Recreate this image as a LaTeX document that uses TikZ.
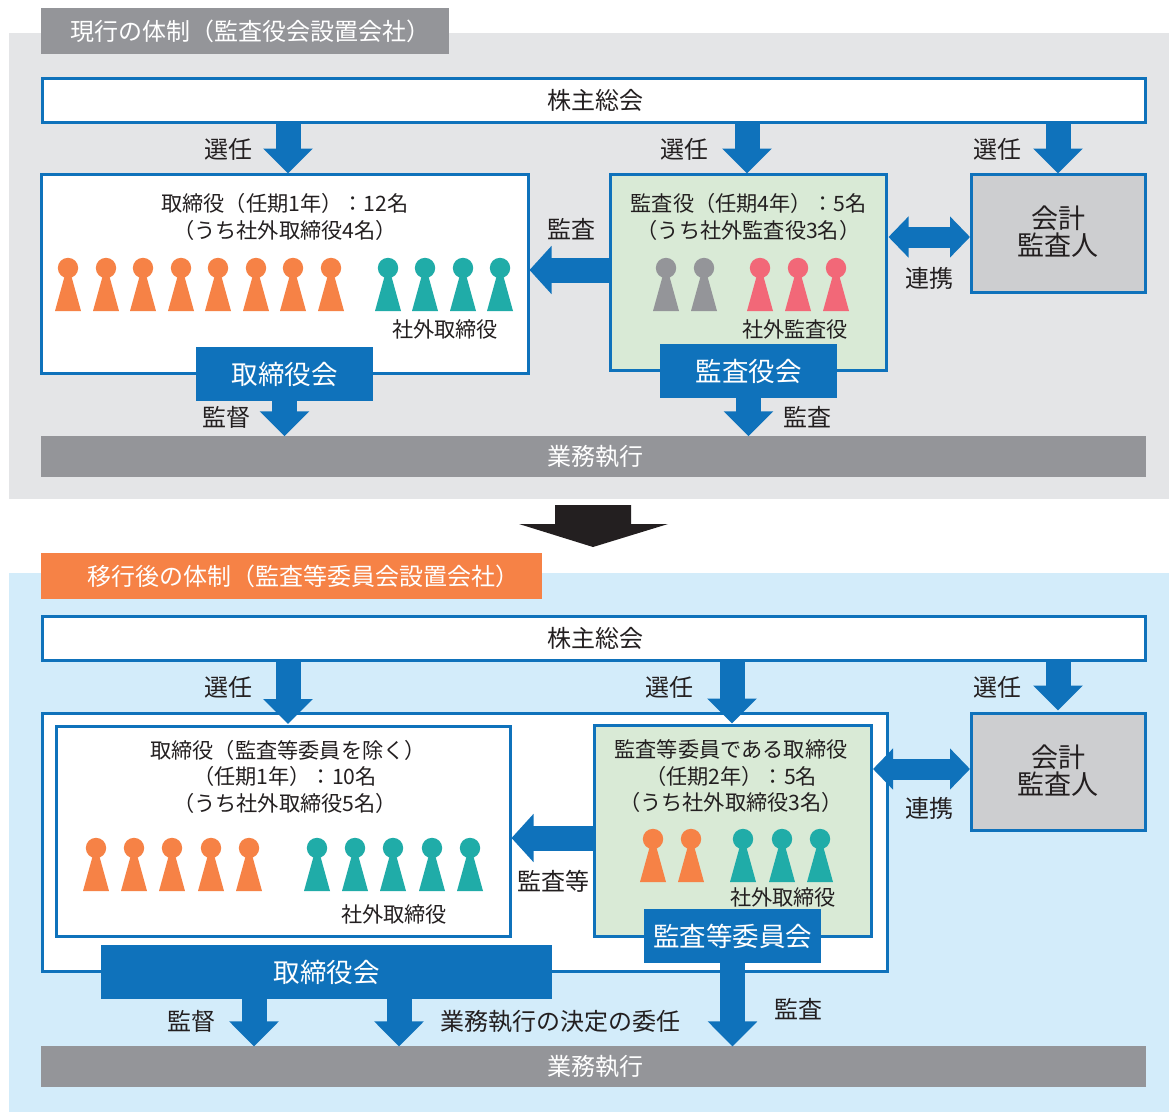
\documentclass[tikz,border=0pt]{standalone}
\usepackage{fontspec}
\setmainfont{Noto Sans CJK JP}
\usetikzlibrary{arrows.meta}
\definecolor{blu}{HTML}{0F72BB}
\definecolor{gry}{HTML}{949599}
\definecolor{pale}{HTML}{E4E5E7}
\definecolor{sky}{HTML}{D3ECFA}
\definecolor{grn}{HTML}{D9EAD6}
\definecolor{acc}{HTML}{CDCED0}
\definecolor{org}{HTML}{F68246}
\definecolor{tea}{HTML}{20ACA8}
\definecolor{pnk}{HTML}{F26878}
\definecolor{ink}{HTML}{231F20}
\tikzset{
  every node/.style={inner sep=0pt,outer sep=0pt,text=ink},
  panel/.style={fill=#1,minimum width=1160,anchor=north west},
  head/.style={fill=#1,text=white,font=\fontsize{24}{24}\selectfont},
  sbox/.style={draw=blu,line width=3,fill=#1},
  sbox/.default=white,
  bar/.style={fill=gry,text=white,font=\fontsize{24}{24}\selectfont,minimum width=1105,minimum height=40.5},
  bluebox/.style={fill=blu,text=white,font=\fontsize{26.5}{26.5}\selectfont,minimum height=54},
  lab/.style={font=\fontsize{24}{24}\selectfont},
  txt/.style={font=\fontsize{21.2}{26.5}\selectfont,align=center},
  big/.style={font=\fontsize{27}{27}\selectfont,align=center},
  blk/.style={draw=blu,line width=25,-{Triangle[length=25,width=48]},shorten >=1},
  blkh/.style={draw=blu,line width=25,-{Triangle[length=22,width=47]},shorten >=1},
  dbl/.style={draw=blu,line width=21,{Triangle[length=20,width=40]}-{Triangle[length=20,width=40]},shorten >=1,shorten <=2},
  person/.pic={
    \fill[#1] (0,0) circle (10.2);
    \fill[#1] (-2.5,5) -- (2.5,5) -- (13,43) -- (-13,43) -- cycle;
  }
}
\begin{document}
\begin{tikzpicture}[x=1pt,y=-1pt]
\useasboundingbox (0,0) rectangle (1169,1112);
% ---------- upper panel
\node[panel=pale,minimum height=466] (p1) at (9,33) {};
\node[head=gry,minimum width=408,minimum height=46] (t1) at (245,31) {\hspace*{10pt}現行の体制（監査役会設置会社）};
\node[sbox,minimum width=1103,minimum height=44] (m1) at (593.5,100) {\hspace*{3pt}\fontsize{24}{24}\selectfont 株主総会};
\node[sbox,minimum width=487,minimum height=199] (b1) at (285,274) {};
\node[sbox=grn,minimum width=276,minimum height=196] (k1) at (748.5,272.5) {};
\node[sbox=acc,minimum width=174,minimum height=118] (c1) at (1058,233.5) {};
\node[bar] (w1) at (593.5,456.5) {\hspace*{3pt}業務執行};
\node[bluebox,minimum width=177] (bb1) at (284.5,374) {取締役会};
\node[bluebox,minimum width=177] (kb1) at (748.5,371) {監査役会};
\node[txt] (bt1) at (285,217) {取締役（任期1年）：12名\\（うち社外取締役4名）};
\node[txt] (kt1) at (748.5,217) {監査役（任期4年）：5名\\（うち社外監査役3名）};
\node[big] (ct1) at (1058,232) {会計\\監査人};
\node[txt] (bo1) at (445,329) {社外取締役};
\node[txt] (ko1) at (795,329) {社外監査役};
\node[lab] (l1) at (228,149) {選任};
\node[lab] (l2) at (684,149) {選任};
\node[lab] (l3) at (997,149) {選任};
\node[lab] (l4) at (571,229) {監査};
\node[lab] (l5) at (929,278) {連携};
\node[lab] (l6) at (226,417) {監督};
\node[lab] (l7) at (807,417) {監査};
\foreach \x in {68,106,143,181,218,256,293,331} \pic at (\x,268) {person=org};
\foreach \x in {388,425,463,500} \pic at (\x,268) {person=tea};
\foreach \x in {666,704} \pic at (\x,268) {person=gry};
\foreach \x in {760,798,836} \pic at (\x,268) {person=pnk};
\coordinate (a1) at (288,0);
\coordinate (a2) at (747,0);
\coordinate (a3) at (1058,0);
\coordinate (a4) at (0,270);
\coordinate (a5) at (0,237);
\draw[blk] (m1.south -| a1) -- (b1.north -| a1);
\draw[blk] (m1.south -| a2) -- (k1.north -| a2);
\draw[blk] (m1.south -| a3) -- (c1.north -| a3);
\draw[blk,shorten >=0] (bb1.south) -- (bb1.south |- w1.north);
\draw[blk,shorten >=0] (kb1.south) -- (kb1.south |- w1.north);
\draw[blkh] (k1.west |- a4) -- (b1.east |- a4);
\draw[dbl] (k1.east |- a5) -- (c1.west |- a5);
% ---------- transition arrow
\coordinate (tb) at (593,547);
\fill[ink] (555,505) -- (631,505) -- (631,524) -- (668,524) -- (tb) -- (519,524) -- (555,524) -- cycle;
% ---------- lower panel
\node[panel=sky,minimum height=539] (p2) at (9,573) {};
\node[head=org,minimum width=501,minimum height=46] (t2) at (291.5,576) {\hspace*{24pt}移行後の体制（監査等委員会設置会社）};
\node[sbox,minimum width=1103,minimum height=44] (m2) at (593.5,638) {\hspace*{3pt}\fontsize{24}{24}\selectfont 株主総会};
\node[sbox,minimum width=845,minimum height=258] (o2) at (464.5,842.5) {};
\node[sbox,minimum width=454,minimum height=210] (b2) at (283.5,831) {};
\node[sbox=grn,minimum width=277,minimum height=211] (k2) at (732.5,831) {};
\node[sbox=acc,minimum width=174,minimum height=117] (c2) at (1058,772) {};
\node[bar] (w2) at (593.5,1066.7) {\hspace*{3pt}業務執行};
\node[bluebox,minimum width=451] (bb2) at (326.5,972) {取締役会};
\node[bluebox,minimum width=177] (kb2) at (732.5,936) {監査等委員会};
\node[txt] (bt2) at (285,776.5) {\hspace*{6pt}取締役（監査等委員を除く）\\（任期1年）：10名\\（うち社外取締役5名）};
\node[txt] (kt2) at (731,776.5) {監査等委員である取締役\\（任期2年）：5名\\（うち社外取締役3名）};
\node[big] (ct2) at (1058,771) {会計\\監査人};
\node[txt] (bo2) at (394,914) {社外取締役};
\node[txt] (ko2) at (783,897) {社外取締役};
\node[lab] (n1) at (228,687) {選任};
\node[lab] (n2) at (669,687) {選任};
\node[lab] (n3) at (997,687) {選任};
\node[lab] (n4) at (553,881) {監査等};
\node[lab] (n5) at (929,808) {連携};
\node[lab] (n6) at (191,1021) {監督};
\node[lab] (n7) at (560,1022) {業務執行の決定の委任};
\node[lab] (n8) at (798,1009) {監査};
\foreach \x in {96,134,172,211,249} \pic at (\x,848) {person=org};
\foreach \x in {317,355,393,432,470} \pic at (\x,848) {person=tea};
\foreach \x in {653,691} \pic at (\x,839) {person=org};
\foreach \x in {743,782,820} \pic at (\x,839) {person=tea};
\coordinate (d1) at (288,0);
\coordinate (d2) at (732,0);
\coordinate (d3) at (1058,0);
\coordinate (d4) at (254,0);
\coordinate (d5) at (399,0);
\coordinate (d6) at (0,838);
\coordinate (d7) at (0,769);
\draw[blk,shorten >=2] (m2.south -| d1) -- (b2.north -| d1);
\draw[blk,shorten >=2] (m2.south -| d2) -- (k2.north -| d2);
\draw[blk,shorten >=3] (m2.south -| d3) -- (c2.north -| d3);
\draw[blk,shorten >=0] (bb2.south -| d4) -- (w2.north -| d4);
\draw[blk,shorten >=0] (bb2.south -| d5) -- (w2.north -| d5);
\draw[blk,shorten >=0] (kb2.south) -- (kb2.south |- w2.north);
\draw[blkh] (k2.west |- d6) -- (b2.east |- d6);
\draw[dbl] (k2.east |- d7) -- (c2.west |- d7);
\end{tikzpicture}
\end{document}
